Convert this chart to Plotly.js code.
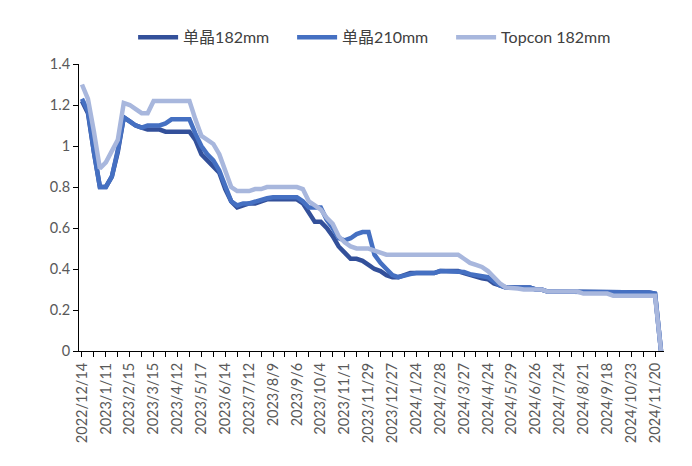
<!DOCTYPE html>
<html>
<head>
<meta charset="utf-8">
<script src="https://cdn.plot.ly/plotly-3.0.1.min.js"></script>
<style>
html,body{margin:0;padding:0;background:#fff;}
#chart{width:692px;height:466px;}
</style>
</head>
<body>
<div id="chart"></div>
<script>
const dates = [
"2022/12/14","2022/12/21","2022/12/28","2023/1/4","2023/1/11","2023/1/18","2023/2/1","2023/2/8",
"2023/2/15","2023/2/22","2023/3/1","2023/3/8","2023/3/15","2023/3/22","2023/3/29","2023/4/5",
"2023/4/12","2023/4/19","2023/4/26","2023/5/10","2023/5/17","2023/5/24","2023/5/31","2023/6/7",
"2023/6/14","2023/6/21","2023/6/28","2023/7/5","2023/7/12","2023/7/19","2023/7/26","2023/8/2",
"2023/8/9","2023/8/16","2023/8/23","2023/8/30","2023/9/6","2023/9/13","2023/9/20","2023/9/27",
"2023/10/4","2023/10/11","2023/10/18","2023/10/25","2023/11/1","2023/11/8","2023/11/15","2023/11/22",
"2023/11/29","2023/12/6","2023/12/13","2023/12/20","2023/12/27","2024/1/3","2024/1/10","2024/1/17",
"2024/1/24","2024/1/31","2024/2/7","2024/2/21","2024/2/28","2024/3/6","2024/3/13","2024/3/20",
"2024/3/27","2024/4/3","2024/4/10","2024/4/17","2024/4/24","2024/5/8","2024/5/15","2024/5/22",
"2024/5/29","2024/6/5","2024/6/12","2024/6/19","2024/6/26","2024/7/3","2024/7/10","2024/7/17",
"2024/7/24","2024/7/31","2024/8/7","2024/8/14","2024/8/21","2024/8/28","2024/9/4","2024/9/11",
"2024/9/18","2024/9/25","2024/10/9","2024/10/16","2024/10/23","2024/10/30","2024/11/6","2024/11/13",
"2024/11/20","2024/11/27"
];

const mono182 = [
1.22,1.16,0.97,0.80,0.80,0.85,0.97,1.14,
1.12,1.10,1.09,1.08,1.08,1.08,1.07,1.07,
1.07,1.07,1.07,1.03,0.96,0.93,0.90,0.87,
0.79,0.73,0.70,0.71,0.72,0.72,0.73,0.74,
0.74,0.74,0.74,0.74,0.74,0.72,0.67,0.63,
0.63,0.60,0.56,0.51,0.48,0.45,0.45,0.44,
0.42,0.40,0.39,0.37,0.36,0.36,0.37,0.38,
0.38,0.38,0.38,0.38,0.39,0.39,0.39,0.39,
0.38,0.37,0.36,0.355,0.35,0.33,0.32,0.31,
0.31,0.31,0.31,0.31,0.30,0.30,0.29,0.29,
0.29,0.29,0.29,0.29,0.285,0.285,0.285,0.285,
0.285,0.285,0.285,0.285,0.285,0.285,0.285,0.285,
0.28,0
];

const mono210 = [
1.23,1.17,0.97,0.80,0.80,0.85,0.98,1.14,
1.12,1.10,1.09,1.10,1.10,1.10,1.11,1.13,
1.13,1.13,1.13,1.06,1.00,0.96,0.93,0.88,
0.80,0.73,0.71,0.72,0.72,0.73,0.74,0.745,
0.75,0.75,0.75,0.75,0.75,0.73,0.70,0.70,
0.70,0.64,0.60,0.55,0.54,0.55,0.57,0.58,
0.58,0.47,0.43,0.40,0.37,0.36,0.37,0.375,
0.38,0.38,0.38,0.38,0.39,0.39,0.39,0.39,
0.385,0.375,0.37,0.365,0.36,0.34,0.32,0.31,
0.31,0.31,0.31,0.31,0.30,0.30,0.29,0.29,
0.29,0.29,0.29,0.29,0.285,0.285,0.285,0.285,
0.285,0.285,0.285,0.285,0.285,0.285,0.285,0.285,
0.28,0
];

const topcon182 = [
1.30,1.23,1.07,0.89,0.92,0.97,1.03,1.21,
1.20,1.18,1.16,1.16,1.22,1.22,1.22,1.22,
1.22,1.22,1.22,1.13,1.05,1.03,1.01,0.96,
0.88,0.80,0.78,0.78,0.78,0.79,0.79,0.80,
0.80,0.80,0.80,0.80,0.80,0.79,0.73,0.71,
0.69,0.65,0.62,0.56,0.53,0.51,0.50,0.50,
0.50,0.49,0.48,0.47,0.47,0.47,0.47,0.47,
0.47,0.47,0.47,0.47,0.47,0.47,0.47,0.47,
0.45,0.43,0.42,0.41,0.39,0.36,0.33,0.31,
0.31,0.305,0.30,0.30,0.30,0.30,0.29,0.29,
0.29,0.29,0.29,0.29,0.28,0.28,0.28,0.28,
0.28,0.27,0.27,0.27,0.27,0.27,0.27,0.27,
0.27,0
];

const seriesNames = ["单晶182mm", "单晶210mm", "Topcon 182mm"];
const yTicks = [0, 0.2, 0.4, 0.6, 0.8, 1, 1.2, 1.4];
const yTickText = ["0", "0.2", "0.4", "0.6", "0.8", "1", "1.2", "1.4"];

// tick marks every 2 categories, labels every 4
const tickVals = dates.filter((d, i) => i % 2 === 0);
const tickText = dates.map((d, i) => (i % 4 === 0 ? d : "")).filter((d, i) => i % 2 === 0);

const colors = ["#33509A", "#4570C2", "#A8B7DD"];
const font = "Lato, 'Noto Sans CJK SC', sans-serif";

const traces = [mono182, mono210, topcon182].map((vals, k) => ({
  type: "scatter",
  mode: "lines",
  x: dates,
  y: vals,
  name: seriesNames[k],
  line: {color: colors[k], width: 4.5}
}));

const layout = {
  width: 692, height: 466,
  margin: {l: 79, r: 28, t: 64, b: 115},
  paper_bgcolor: "#fff", plot_bgcolor: "#fff",
  font: {family: font, color: "#595959"},
  showlegend: true,
  legend: {
    orientation: "h", x: 0.537, xanchor: "center", xref: "container",
    y: 0.92, yanchor: "middle", yref: "container",
    font: {size: 16, color: "#404040", family: font},
    itemwidth: 40,
    entrywidth: 104, entrywidthmode: "pixels"
  },
  xaxis: {
    type: "category",
    range: [-0.5, 97.5],
    tickmode: "array",
    tickvals: tickVals,
    ticktext: tickText,
    tickangle: -90,
    ticks: "outside", ticklen: 5, tickcolor: "#000", tickwidth: 1,
    showline: true, linecolor: "#000", linewidth: 1,
    showgrid: false, zeroline: false,
    tickfont: {size: 14.5, color: "#595959", family: font}
  },
  yaxis: {
    range: [0, 1.4],
    tickmode: "array", tickvals: yTicks, ticktext: yTickText,
    ticks: "outside", ticklen: 5, tickcolor: "#000", tickwidth: 1,
    showline: true, linecolor: "#000", linewidth: 1,
    showgrid: false, zeroline: false,
    tickfont: {size: 14.5, color: "#595959", family: font}
  }
};

Plotly.newPlot("chart", traces, layout, {displayModeBar: false, staticPlot: true});
</script>
</body>
</html>
